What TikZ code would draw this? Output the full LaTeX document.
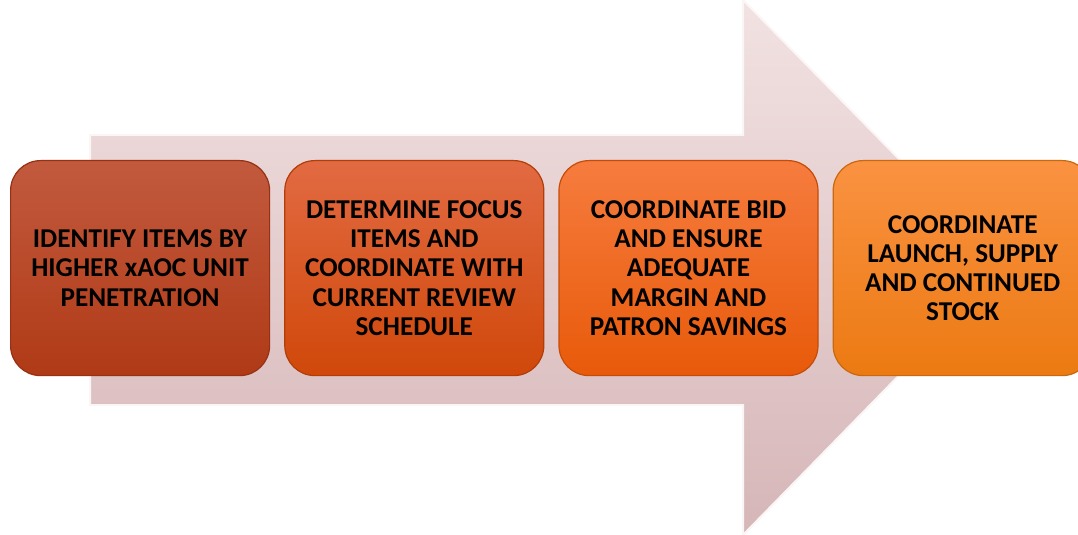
\documentclass[tikz,border=0pt]{standalone}
\usepackage{fontspec}
\setmainfont{Carlito}
\usepackage{xcolor}
\usetikzlibrary{positioning}

\definecolor{arrowtop}{RGB}{242,226,226}
\definecolor{arrowbot}{RGB}{214,182,184}
\definecolor{redtop}{RGB}{194,90,62}
\definecolor{redbot}{RGB}{176,58,22}
\definecolor{rusttop}{RGB}{226,106,66}
\definecolor{rustbot}{RGB}{208,72,10}
\definecolor{orangetop}{RGB}{246,124,62}
\definecolor{orangebot}{RGB}{232,90,10}
\definecolor{ambertop}{RGB}{250,146,66}
\definecolor{amberbot}{RGB}{236,122,18}

\tikzset{
  stepbox/.style={rounded corners=15pt,minimum width=129.5pt,minimum height=107.5pt,
    align=center,font=\bfseries\fontsize{13.6}{14.6}\selectfont,
    draw=#1bot!85!black,line width=0.6pt,top color=#1top,bottom color=#1bot},
}

\begin{document}
\begin{tikzpicture}[x=0.5pt,y=-0.5pt]
        \useasboundingbox (0,0) rectangle (1078,535);

        % big arrow behind the steps
        \draw (90,135) coordinate (s1);
        \draw (743,135) coordinate (s2);
        \draw (743,0) coordinate (h1);
        \draw (1005,267) coordinate (tip);
        \draw (743,535) coordinate (h2);
        \draw (743,405) coordinate (s3);
        \draw (90,405) coordinate (s4);
        \draw[draw=white!70!arrowtop,line width=1pt,top color=arrowtop,bottom color=arrowbot]
            (s1)--(s2)--(h1)--(tip)--(h2)--(s3)--(s4)--cycle;

        % steps
        \node[stepbox=red,anchor=north west] (identify) at (10,160)
            {IDENTIFY ITEMS BY\\HIGHER xAOC UNIT\\PENETRATION};
        \node[stepbox=rust,right=7pt of identify] (focus)
            {DETERMINE FOCUS\\ITEMS AND\\COORDINATE WITH\\CURRENT REVIEW\\SCHEDULE};
        \node[stepbox=orange,right=7pt of focus] (bid)
            {COORDINATE BID\\AND ENSURE\\ADEQUATE\\MARGIN AND\\PATRON SAVINGS};
        \node[stepbox=amber,right=7pt of bid] (launch)
            {COORDINATE\\LAUNCH, SUPPLY\\AND CONTINUED\\STOCK};
    \end{tikzpicture}
\end{document}
